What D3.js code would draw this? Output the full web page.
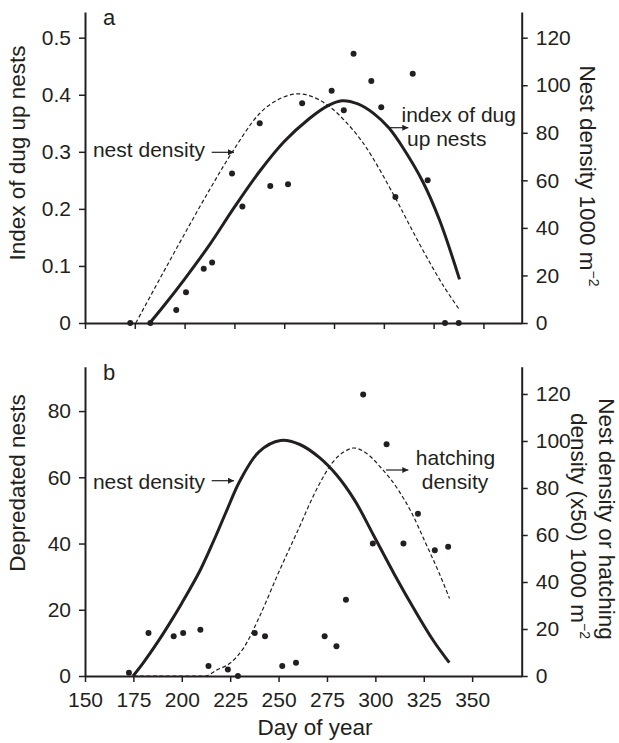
<!DOCTYPE html>
<html lang="en">
<head>
<meta charset="utf-8">
<title>Nest density, dug up and depredated nests by day of year</title>
<style>
    body, html { margin: 0; background: #fff; }
    svg { display: block; }
    text { font-family: "Liberation Sans", Arial, Helvetica, sans-serif; fill: #231f20; }
</style>
<script src="https://d3js.org/d3.v7.min.js"></script>
</head>
<body>
<svg width="619" height="743"></svg>
<script>
    // survey days (same dates in both panels)
    const days = [172.7, 182.8, 195.8, 200.7, 209.6, 213.8, 223.8, 229, 237.7, 243, 251.9, 259,
                  273.8, 279.9, 284.8, 293.7, 298.7, 305.8, 314.5, 322, 330.7, 337.6];
    // panel a: index of dug up nests
    const dugIndex = [0, 0, 0.023, 0.054, 0.095, 0.106, 0.262, 0.204, 0.350, 0.240, 0.243, 0.385,
                      0.407, 0.373, 0.472, 0.424, 0.378, 0.221, 0.437, 0.250, 0, 0];
    // panel b: depredated nests
    const depredated = [1, 13, 12, 13, 14, 3, 2, 0, 13, 12, 3, 4, 12, 9, 23, 85, 40, 70, 40, 49, 38, 39];

    // fitted curves as [day, value]
    const dugFit = [[182.5, 0], [190, 0.032], [200, 0.077], [212.5, 0.137], [225, 0.203], [237.5, 0.265],
                    [250, 0.318], [262.5, 0.358], [272, 0.381], [279, 0.3896], [287, 0.384], [295, 0.367],
                    [302.5, 0.342], [310, 0.305], [319.5, 0.248], [328, 0.18], [338, 0.0765]];
    const nestDensityA = [[175.5, 0], [187.5, 18.5], [200, 37.5], [212.5, 56], [224, 72], [237.5, 88],
                          [246, 93.5], [255, 96.3], [263, 95.5], [272, 91.5], [281, 84.5], [291, 74],
                          [305.5, 53], [313, 41], [321, 28.5], [330, 15.5], [338, 5.5]];
    const nestDensityB = [[174.8, 0], [180, 5.5], [187.6, 14.5], [193.8, 22.5], [200, 31], [209.5, 45],
                          [217, 58.5], [223, 70], [230, 83], [240, 95.5], [251, 100.2], [261, 98.5],
                          [271, 93], [280, 85.5], [289.5, 74.5], [299, 60], [310, 43], [320, 28.5],
                          [330, 15], [338.2, 5.7]];
    const hatchDensity = [[175, 0], [212, 0], [218, 2.5], [225, 5.5], [232, 12], [240, 25], [250, 44],
                          [260, 62], [270, 80], [278, 91], [284, 95.5], [289, 97], [295, 95], [303, 88.5],
                          [312, 79], [319, 69], [326, 56.5], [333, 43.7], [338.3, 33]];

    const dayTicks = [150, 175, 200, 225, 250, 275, 300, 325, 350];
    const leftTicksA = [0, 0.1, 0.2, 0.3, 0.4, 0.5];
    const leftTicksB = [0, 20, 40, 60, 80];
    const rightTicks = [0, 20, 40, 60, 80, 100, 120];

    const svg = d3.select("svg");
    const ink = "#231f20";

    svg.append("defs").append("marker")
        .attr("id", "arrow")
        .attr("viewBox", "0 0 10 10")
        .attr("refX", 10).attr("refY", 5)
        .attr("markerUnits", "userSpaceOnUse")
        .attr("markerWidth", 7).attr("markerHeight", 6)
        .attr("orient", "auto")
        .append("path")
        .attr("d", "M0,0L10,5L0,10z")
        .attr("fill", ink);

    function styleAxis(g) {
        g.attr("color", ink)
         .attr("font-size", 21)
         .attr("font-family", '"Liberation Sans", Arial, sans-serif');
        g.select(".domain").attr("stroke-width", 2);
        g.selectAll(".tick line").attr("stroke-width", 1.5);
    }

    function drawPanel(p) {
        const x = d3.scaleLinear().domain([150, p.xMax]).range([85, 521.7]);
        const yL = d3.scaleLinear().domain([0, p.leftMax]).range([p.bottom, p.top]);
        const yR = d3.scaleLinear().domain([0, p.rightMax]).range([p.bottom, p.top]);

        const xAxis = d3.axisBottom(x).tickValues(dayTicks).tickSize(6).tickSizeOuter(0).tickPadding(10);
        if (!p.xLabels) xAxis.tickFormat("");
        svg.append("g").attr("transform", `translate(0,${p.bottom})`).call(xAxis).call(styleAxis);

        svg.append("g").attr("transform", "translate(85,0)")
            .call(d3.axisLeft(yL).tickValues(p.leftTicks).tickSize(6).tickSizeOuter(0).tickPadding(8)
                .tickFormat(p.leftFormat))
            .call(styleAxis);

        svg.append("g").attr("transform", "translate(521.7,0)")
            .call(d3.axisRight(yR).tickValues(rightTicks).tickSize(6).tickSizeOuter(0).tickPadding(8))
            .call(styleAxis);

        p.curves.forEach(c => {
            const ys = c.axis === "left" ? yL : yR;
            const line = d3.line().x(d => x(d[0])).y(d => ys(d[1]))
                .curve(c.flatStart ? d3.curveMonotoneX : d3.curveCatmullRom.alpha(0.5));
            svg.append("path")
                .datum(c.data)
                .attr("fill", "none")
                .attr("stroke", ink)
                .attr("stroke-width", c.dashed ? 1.2 : 3)
                .attr("stroke-dasharray", c.dashed ? "4,2.5" : null)
                .attr("d", line);
        });

        svg.append("g").selectAll("circle")
            .data(days.map((d, i) => [d, p.values[i]]))
            .join("circle")
            .attr("cx", d => x(d[0]))
            .attr("cy", d => yL(d[1]))
            .attr("r", 3)
            .attr("fill", ink);

        // panel letter
        svg.append("text").attr("x", 103).attr("y", p.top + 13)
            .attr("font-size", 22).text(p.letter);

        // left title
        svg.append("text")
            .attr("transform", `translate(25,${p.leftTitleY}) rotate(-90)`)
            .attr("text-anchor", "middle").attr("font-size", 22.5)
            .text(p.leftTitle);

        // right title (one or two lines, the unit line ends with m-2)
        p.rightTitle.forEach(t => {
            const txt = svg.append("text")
                .attr("transform", `translate(${t.x},${t.y}) rotate(90)`)
                .attr("text-anchor", "middle").attr("font-size", 22.5);
            txt.append("tspan").text(t.text);
            if (t.unit) {
                txt.append("tspan").attr("font-size", 14).attr("dy", -9).text("−2");
            }
        });

        // annotations
        p.notes.forEach(n => {
            n.lines.forEach(l => {
                svg.append("text").attr("x", l.x).attr("y", l.y)
                    .attr("text-anchor", l.anchor).attr("font-size", 21).text(l.text);
            });
            svg.append("line")
                .attr("x1", n.arrow[0]).attr("y1", n.arrow[1])
                .attr("x2", n.arrow[2]).attr("y2", n.arrow[1])
                .attr("stroke", ink).attr("stroke-width", 1.2)
                .attr("marker-end", "url(#arrow)");
        });
    }

    drawPanel({
        letter: "a",
        top: 12, bottom: 323,
        xMax: 369.2, leftMax: 0.545, rightMax: 130.8,
        xLabels: false,
        leftTicks: leftTicksA,
        leftFormat: d => d === 0 ? "0" : d.toFixed(1),
        values: dugIndex,
        curves: [
            { data: nestDensityA, axis: "right", dashed: true },
            { data: dugFit, axis: "left", dashed: false }
        ],
        leftTitle: "Index of dug up nests", leftTitleY: 153,
        rightTitle: [{ text: "Nest density  1000 m", unit: true, x: 580, y: 176 }],
        notes: [
            { lines: [{ text: "nest density", x: 205, y: 157, anchor: "end" }], arrow: [211.7, 152.3, 234] },
            { lines: [{ text: "index of dug", x: 401.5, y: 122, anchor: "start" },
                      { text: "up nests", x: 407, y: 146, anchor: "start" }], arrow: [390, 127.7, 408.3] }
        ]
    });

    drawPanel({
        letter: "b",
        top: 366.7, bottom: 676,
        xMax: 375.6, leftMax: 93.4, rightMax: 131.6,
        xLabels: true,
        leftTicks: leftTicksB,
        leftFormat: d => d,
        values: depredated,
        curves: [
            { data: hatchDensity, axis: "right", dashed: true, flatStart: true },
            { data: nestDensityB, axis: "right", dashed: false }
        ],
        leftTitle: "Depredated nests", leftTitleY: 483,
        rightTitle: [{ text: "Nest density or hatching", unit: false, x: 598.5, y: 519 },
                     { text: "density (x50) 1000 m", unit: true, x: 571, y: 526 }],
        notes: [
            { lines: [{ text: "nest density", x: 205, y: 488.5, anchor: "end" }], arrow: [211.7, 480.7, 234] },
            { lines: [{ text: "hatching", x: 455.5, y: 465, anchor: "middle" },
                      { text: "density", x: 455, y: 488.5, anchor: "middle" }], arrow: [386, 470, 408.3] }
        ]
    });

    svg.append("text").attr("x", 315).attr("y", 735)
        .attr("text-anchor", "middle").attr("font-size", 22.5)
        .text("Day of year");
</script>
</body>
</html>
